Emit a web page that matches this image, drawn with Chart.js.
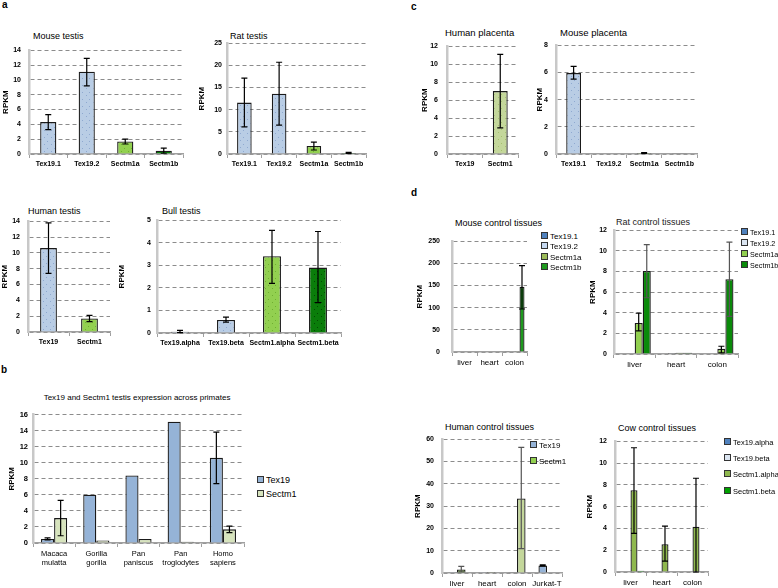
<!DOCTYPE html>
<html>
<head>
<meta charset="utf-8">
<script src="https://cdn.jsdelivr.net/npm/chart.js@4.4.0/dist/chart.umd.min.js"></script>
<style>
  body { margin: 0; background: #fff; width: 778px; height: 588px; position: relative; overflow: hidden;
         font-family: 'Liberation Sans', Arial, sans-serif; color: #000; }
  canvas { position: absolute; }
  .t { position: absolute; white-space: nowrap; font-size: 9px; }
  .p { position: absolute; font-size: 10px; font-weight: bold; }
  .leg { position: absolute; white-space: nowrap; font-size: 7.5px; line-height: 10px; }
  .leg i { display: inline-block; width: 5px; height: 5px; border: 1px solid #333; margin-right: 2px; vertical-align: 0; }
</style>
</head>
<body>
<div class="p" style="left:2px;top:-1px">a</div>
<div class="p" style="left:1px;top:364px">b</div>
<div class="p" style="left:411px;top:1px">c</div>
<div class="p" style="left:411px;top:187px">d</div>

<div class="t" style="left:33px;top:31px">Mouse testis</div>
<div class="t" style="left:230px;top:31px">Rat testis</div>
<div class="t" style="left:28px;top:206px">Human testis</div>
<div class="t" style="left:162px;top:206px">Bull testis</div>
<div class="t" style="left:7px;top:393px;width:260px;text-align:center;font-size:8px">Tex19 and Sectm1 testis expression across primates</div>
<div class="t" style="left:445px;top:27px;font-size:9.5px">Human placenta</div>
<div class="t" style="left:560px;top:27px;font-size:9.5px">Mouse placenta</div>
<div class="t" style="left:455px;top:218px">Mouse control tissues</div>
<div class="t" style="left:616px;top:217px;color:#222">Rat control tissues</div>
<div class="t" style="left:445px;top:422px">Human control tissues</div>
<div class="t" style="left:618px;top:423px">Cow control tissues</div>

<canvas id="mouseTestis"></canvas>
<canvas id="ratTestis"></canvas>
<canvas id="humanTestis"></canvas>
<canvas id="bullTestis"></canvas>
<canvas id="primatesChart"></canvas>
<canvas id="humanPlacenta"></canvas>
<canvas id="mousePlacenta"></canvas>
<canvas id="mouseCtl"></canvas>
<canvas id="ratCtl"></canvas>
<canvas id="humanCtl"></canvas>
<canvas id="cowCtl"></canvas>

<script>
// ---- a: testis ----
var mouseTestisGenes = ['Tex19.1', 'Tex19.2', 'Sectm1a', 'Sectm1b'];
var mouseTestisRpkm = [4.3, 11.1, 1.7, 0.45];
var mouseTestisLow = [3.3, 9.2, 1.35, 0.1];
var mouseTestisHigh = [5.3, 12.9, 2.0, 0.8];

var ratTestisGenes = ['Tex19.1', 'Tex19.2', 'Sectm1a', 'Sectm1b'];
var ratTestisRpkm = [11.6, 13.6, 1.8, 0.25];
var ratTestisLow = [6.1, 6.5, 0.9, 0.15];
var ratTestisHigh = [17.1, 20.7, 2.7, 0.35];

var humanTestisGenes = ['Tex19', 'Sectm1'];
var humanTestisRpkm = [10.6, 1.7];
var humanTestisLow = [7.4, 1.3];
var humanTestisHigh = [13.8, 2.1];

var bullTestisGenes = ['Tex19.alpha', 'Tex19.beta', 'Sectm1.alpha', 'Sectm1.beta'];
var bullTestisRpkm = [0.06, 0.58, 3.4, 2.9];
var bullTestisLow = [0.02, 0.48, 2.2, 1.35];
var bullTestisHigh = [0.12, 0.7, 4.55, 4.5];

// ---- b: primates ----
var primates = [['Macaca', 'mulatta'], ['Gorilla', 'gorilla'], ['Pan', 'paniscus'], ['Pan', 'troglodytes'], ['Homo', 'sapiens']];
var primTex19 = [0.5, 6.0, 8.4, 15.1, 10.6];
var primTex19Low = [0.4, null, null, null, 7.4];
var primTex19High = [0.65, null, null, null, 13.8];
var primSectm1 = [3.1, 0.3, 0.5, 0.15, 1.7];
var primSectm1Low = [0.9, null, null, null, 1.3];
var primSectm1High = [5.3, null, null, null, 2.1];

// ---- c: placenta ----
var humanPlacentaGenes = ['Tex19', 'Sectm1'];
var humanPlacentaRpkm = [0, 7.0];
var humanPlacentaLow = [null, 2.9];
var humanPlacentaHigh = [null, 11.1];

var mousePlacentaGenes = ['Tex19.1', 'Tex19.2', 'Sectm1a', 'Sectm1b'];
var mousePlacentaRpkm = [5.95, 0.03, 0.07, 0.02];
var mousePlacentaLow = [5.5, null, 0.04, null];
var mousePlacentaHigh = [6.45, null, 0.1, null];

// ---- d: control tissues ----
var mouseTissues = ['liver', 'heart', 'colon'];
var mouseCtlTex19_1 = [0, 0, 1.5];
var mouseCtlTex19_2 = [0, 0, 0];
var mouseCtlSectm1a = [0, 0, 0.3];
var mouseCtlSectm1b = [0, 0, 147];
var mouseCtlSectm1bLow = [null, null, 97];
var mouseCtlSectm1bHigh = [null, null, 195];

var ratTissues = ['liver', 'heart', 'colon'];
var ratCtlTex19_1 = [0, 0.05, 0];
var ratCtlTex19_2 = [0, 0.1, 0];
var ratCtlSectm1a = [3.0, 0.12, 0.5];
var ratCtlSectm1aLow = [2.25, null, 0.1];
var ratCtlSectm1aHigh = [3.95, null, 0.75];
var ratCtlSectm1b = [8.05, 0.12, 7.25];
var ratCtlSectm1bLow = [5.45, null, 3.65];
var ratCtlSectm1bHigh = [10.6, null, 10.85];

var humanTissues = ['liver', 'heart', 'colon', 'Jurkat-T'];
var humanCtlTex19 = [0.1, 0.1, 0.3, 3.4];
var humanCtlTex19Low = [null, null, null, 3.1];
var humanCtlTex19High = [null, null, null, 3.6];
var humanCtlSectm1 = [1.6, 0.4, 33.4, 0.2];
var humanCtlSectm1Low = [0.5, null, 10.9, null];
var humanCtlSectm1High = [3.0, null, 56.3, null];

var cowTissues = ['liver', 'heart', 'colon'];
var cowCtlTex19a = [0, 0, 0];
var cowCtlTex19b = [0, 0.05, 0];
var cowCtlSectm1a = [7.5, 2.55, 4.15];
var cowCtlSectm1aLow = [3.55, 1.0, 0];
var cowCtlSectm1aHigh = [11.4, 4.2, 8.6];
var cowCtlSectm1b = [0.12, 0, 0];

var lightBlue = '#b9cde5', green = '#92d050', darkGreen = '#0a7d0a';

// speckled fill like the original Excel bars
function dots(base, dot) {
    var p = document.createElement('canvas');
    p.width = 7; p.height = 7;
    var g = p.getContext('2d');
    g.fillStyle = base; g.fillRect(0, 0, 7, 7);
    g.fillStyle = dot;
    g.fillRect(1, 1, 1, 1); g.fillRect(4, 5, 1, 1);
    return g.createPattern(p, 'repeat');
}

// draws whiskers from each dataset's errLow/errHigh arrays
var errorBars = {
    id: 'errorBars',
    afterDatasetsDraw: function (chart) {
        var ctx = chart.ctx, yScale = chart.scales.y;
        chart.data.datasets.forEach(function (ds, i) {
            if (!ds.errLow) return;
            chart.getDatasetMeta(i).data.forEach(function (bar, j) {
                var lo = ds.errLow[j], hi = ds.errHigh[j];
                if (lo == null || hi == null) return;
                var x = bar.x, y1 = yScale.getPixelForValue(lo), y2 = yScale.getPixelForValue(hi);
                var cap = ds.errCap || 3;
                ctx.save();
                ctx.strokeStyle = ds.errColor || '#000';
                ctx.lineWidth = 1.2;
                ctx.beginPath();
                ctx.moveTo(x, y1); ctx.lineTo(x, y2);
                ctx.moveTo(x - cap, y1); ctx.lineTo(x + cap, y1);
                ctx.moveTo(x - cap, y2); ctx.lineTo(x + cap, y2);
                ctx.stroke();
                ctx.restore();
            });
        });
    }
};

// box: plot area in page pixels, ya = y axis width, xa = x axis height, tp = tick padding
function makeChart(id, box, labels, datasets, yMax, yStep, catPct, tickFont, xFont) {
    var c = document.getElementById(id);
    var padTop = 8, padRight = 4;
    c.width = box.x1 - box.x0 + box.ya + padRight;
    c.height = box.yBot - box.yTop + padTop + box.xa;
    c.style.left = (box.x0 - box.ya) + 'px';
    c.style.top = (box.yTop - padTop) + 'px';
    return new Chart(c, {
        type: 'bar',
        data: { labels: labels, datasets: datasets },
        options: {
            responsive: false,
            animation: false,
            layout: { padding: { top: padTop, right: padRight, left: 0, bottom: 0 } },
            plugins: { legend: { display: false }, tooltip: { enabled: false } },
            datasets: { bar: { categoryPercentage: catPct, barPercentage: 1, borderColor: '#1a1a1a', borderWidth: 1.3 } },
            scales: {
                x: {
                    grid: { drawOnChartArea: false, drawTicks: true, tickLength: 4, color: '#a0a0a0', offset: true },
                    border: { color: '#a0a0a0', width: 1.5 },
                    ticks: { font: xFont, color: '#000', padding: 2, maxRotation: 0, autoSkip: false },
                    afterFit: function (s) { s.height = box.xa; }
                },
                y: {
                    min: 0,
                    max: yMax,
                    ticks: { stepSize: yStep, font: tickFont, color: '#000', padding: box.tp },
                    grid: { color: '#8c8c8c', drawTicks: false },
                    border: { color: '#c8c8c8', width: 2.5, dash: [4, 3] },
                    title: { display: true, text: 'RPKM', font: { size: 8, weight: 'bold' }, color: '#000', padding: 0 },
                    afterFit: function (s) { s.width = box.ya; }
                }
            }
        },
        plugins: [errorBars]
    });
}

function legend(x, centers, items, size) {
    items.forEach(function (it, i) {
        var d = document.createElement('div');
        d.className = 'leg';
        d.style.left = x + 'px';
        d.style.top = (centers[i] - 5) + 'px';
        if (size) d.style.fontSize = size + 'px';
        d.innerHTML = '<i style="background:' + it[1] + '"></i>' + it[0];
        document.body.appendChild(d);
    });
}

Chart.defaults.font.family = "'Liberation Sans', Arial, sans-serif";
var tickA = { size: 7, weight: 'bold' };
var xA = { size: 7, weight: 'bold' };
var blueDots = dots(lightBlue, '#8fa9d0'), greenDots = dots(green, '#6fae32'), darkDots = dots(darkGreen, '#024a02');
var oliveDots = dots('#c4d79b', '#a6c070');
var geneColors = [blueDots, blueDots, greenDots, darkDots];

makeChart('mouseTestis', { x0: 29, x1: 183, yTop: 46, yBot: 154, ya: 28, xa: 24, tp: 8 },
    mouseTestisGenes, [{ data: mouseTestisRpkm, backgroundColor: geneColors, errLow: mouseTestisLow, errHigh: mouseTestisHigh }],
    14, 2, 0.42, tickA, xA);

makeChart('ratTestis', { x0: 227, x1: 366, yTop: 42, yBot: 154, ya: 30, xa: 24, tp: 5 },
    ratTestisGenes, [{ data: ratTestisRpkm, backgroundColor: geneColors, errLow: ratTestisLow, errHigh: ratTestisHigh }],
    25, 5, 0.42, tickA, xA);

makeChart('humanTestis', { x0: 28, x1: 110, yTop: 217, yBot: 332, ya: 28, xa: 24, tp: 8 },
    humanTestisGenes, [{ data: humanTestisRpkm, backgroundColor: [blueDots, greenDots], errLow: humanTestisLow, errHigh: humanTestisHigh }],
    14, 2, 0.41, tickA, xA);

makeChart('bullTestis', { x0: 157, x1: 341, yTop: 218, yBot: 333, ya: 40, xa: 24, tp: 6 },
    bullTestisGenes, [{ data: bullTestisRpkm, backgroundColor: geneColors, errLow: bullTestisLow, errHigh: bullTestisHigh }],
    5, 1, 0.39, tickA, xA);

makeChart('primatesChart', { x0: 33, x1: 244, yTop: 413, yBot: 543, ya: 26, xa: 32, tp: 5 },
    primates, [
        { label: 'Tex19', data: primTex19, backgroundColor: '#95b3d7', errLow: primTex19Low, errHigh: primTex19High },
        { label: 'Sectm1', data: primSectm1, backgroundColor: '#d7e4bd', errLow: primSectm1Low, errHigh: primSectm1High }
    ], 16, 2, 0.62, { size: 7.5, weight: 'bold' }, { size: 7.5 });

makeChart('humanPlacenta', { x0: 447, x1: 518, yTop: 41, yBot: 154, ya: 27, xa: 24, tp: 9 },
    humanPlacentaGenes, [{ data: humanPlacentaRpkm, backgroundColor: [blueDots, oliveDots], errLow: humanPlacentaLow, errHigh: humanPlacentaHigh }],
    12, 2, 0.42, tickA, xA);

makeChart('mousePlacenta', { x0: 556, x1: 697, yTop: 41, yBot: 154, ya: 21, xa: 24, tp: 8 },
    mousePlacentaGenes, [{ data: mousePlacentaRpkm, backgroundColor: geneColors, errLow: mousePlacentaLow, errHigh: mousePlacentaHigh }],
    8, 2, 0.42, tickA, xA);

var xD = { size: 8 };
makeChart('mouseCtl', { x0: 452, x1: 527, yTop: 233, yBot: 352, ya: 37, xa: 24, tp: 12 },
    mouseTissues, [
        { label: 'Tex19.1', data: mouseCtlTex19_1, backgroundColor: '#4f81bd' },
        { label: 'Tex19.2', data: mouseCtlTex19_2, backgroundColor: '#c6d9f1' },
        { label: 'Sectm1a', data: mouseCtlSectm1a, backgroundColor: '#9bbb59' },
        { label: 'Sectm1b', data: mouseCtlSectm1b, backgroundColor: '#1e9a1e', errLow: mouseCtlSectm1bLow, errHigh: mouseCtlSectm1bHigh }
    ], 250, 50, 0.8, tickA, xD);

makeChart('ratCtl', { x0: 614, x1: 738, yTop: 227, yBot: 354, ya: 26, xa: 24, tp: 7 },
    ratTissues, [
        { label: 'Tex19.1', data: ratCtlTex19_1, backgroundColor: '#4f81bd' },
        { label: 'Tex19.2', data: ratCtlTex19_2, backgroundColor: '#dbe5f1' },
        { label: 'Sectm1a', data: ratCtlSectm1a, backgroundColor: green, errLow: ratCtlSectm1aLow, errHigh: ratCtlSectm1aHigh },
        { label: 'Sectm1b', data: ratCtlSectm1b, backgroundColor: '#0a8a0a', errLow: ratCtlSectm1bLow, errHigh: ratCtlSectm1bHigh, errColor: '#555' }
    ], 12, 2, 0.78, tickA, xD);

makeChart('humanCtl', { x0: 442, x1: 562, yTop: 435, yBot: 573, ya: 29, xa: 24, tp: 8 },
    humanTissues, [
        { label: 'Tex19', data: humanCtlTex19, backgroundColor: '#95b3d7', errLow: humanCtlTex19Low, errHigh: humanCtlTex19High },
        { label: 'Sectm1', data: humanCtlSectm1, backgroundColor: [green, '#c4d79b', '#c4d79b', '#c4d79b'], errLow: humanCtlSectm1Low, errHigh: humanCtlSectm1High, errColor: '#555' }
    ], 60, 10, 0.57, tickA, xD);

makeChart('cowCtl', { x0: 615, x1: 708, yTop: 437, yBot: 572, ya: 30, xa: 24, tp: 8 },
    cowTissues, [
        { label: 'Tex19.alpha', data: cowCtlTex19a, backgroundColor: '#4f81bd' },
        { label: 'Tex19.beta', data: cowCtlTex19b, backgroundColor: '#dbe5f1' },
        { label: 'Sectm1.alpha', data: cowCtlSectm1a, backgroundColor: '#8fb84e', errLow: cowCtlSectm1aLow, errHigh: cowCtlSectm1aHigh },
        { label: 'Sectm1.beta', data: cowCtlSectm1b, backgroundColor: '#00a000' }
    ], 12, 2, 0.9, tickA, xD);

legend(257, [480, 494], [['Tex19', '#95b3d7'], ['Sectm1', '#d7e4bd']], 9);
legend(541, [237, 247, 257.5, 268], [['Tex19.1', '#4f81bd'], ['Tex19.2', '#c6d9f1'], ['Sectm1a', '#9bbb59'], ['Sectm1b', '#1e9a1e']], 8);
legend(741, [233, 244, 255, 266], [['Tex19.1', '#4f81bd'], ['Tex19.2', '#dbe5f1'], ['Sectm1a', green], ['Sectm1b', '#0a8a0a']], 7.2);
legend(530, [446, 462], [['Tex19', '#95b3d7'], ['Sectm1', green]], 8);
legend(724, [443, 459, 475, 492], [['Tex19.alpha', '#4f81bd'], ['Tex19.beta', '#dbe5f1'], ['Sectm1.alpha', '#8fb84e'], ['Sectm1.beta', '#00a000']], 7.5);
</script>
</body>
</html>
